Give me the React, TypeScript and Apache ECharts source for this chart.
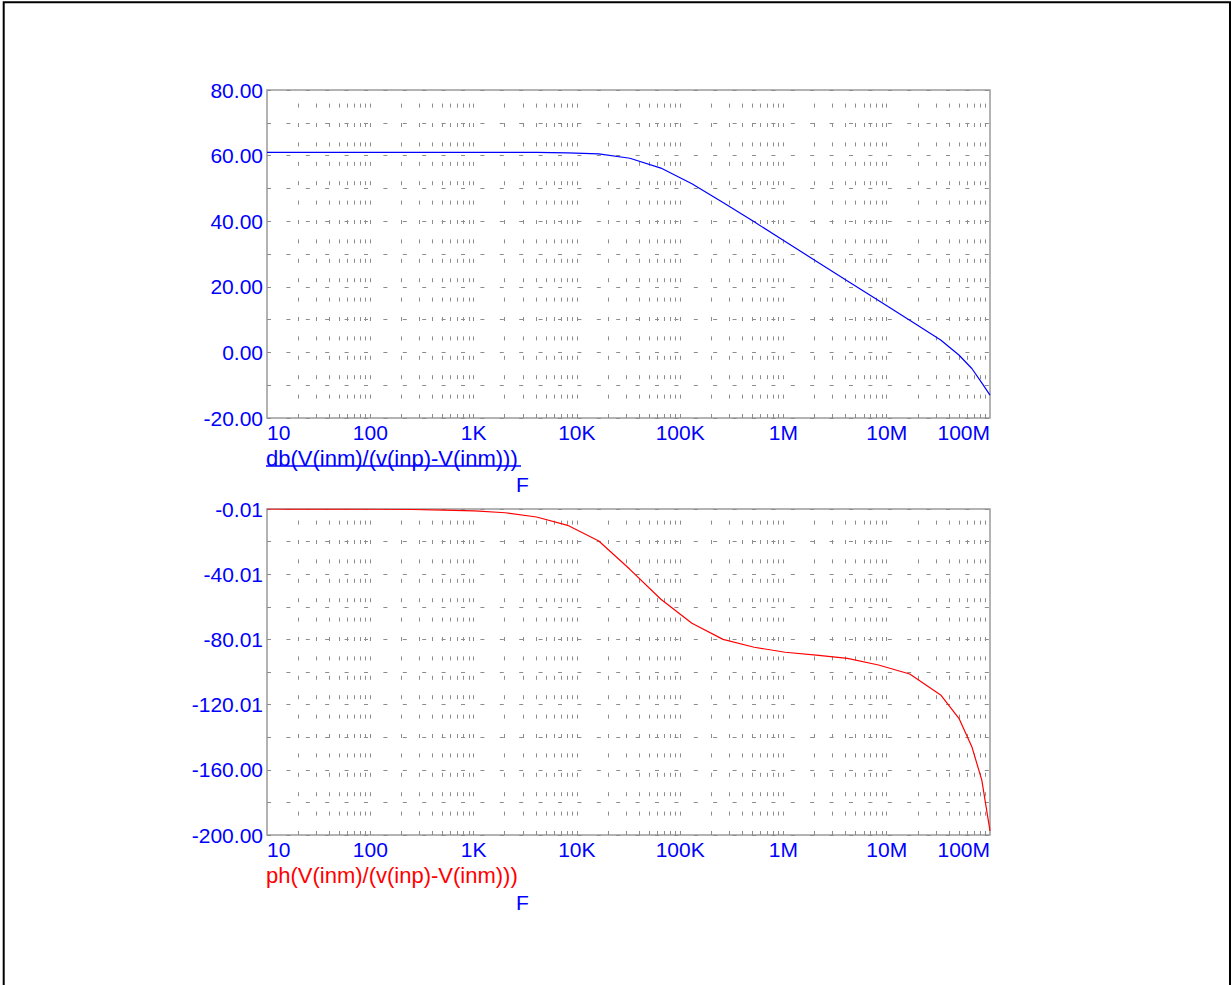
import React, { useEffect, useRef } from "react";
import * as echarts from "echarts";

// Frequency sweep points (Hz)
const freqs = [
  10, 15.9, 31.8, 63.6, 127, 254, 509, 1020, 2030, 4070, 8140, 16300, 32600,
  65100, 130000, 260000, 521000, 1040000, 2080000, 4170000, 8330000, 16700000,
  33300000, 50000000, 66700000, 83300000, 100000000,
];
// db(V(inm)/(v(inp)-V(inm)))
const dbValues = [
  61.0, 61.0, 61.0, 61.0, 61.0, 61.0, 61.0, 61.0, 60.99, 60.96, 60.86, 60.5,
  59.2, 56.2, 51.4, 45.7, 39.8, 33.8, 27.8, 21.8, 15.8, 9.8, 3.8, -0.8, -4.9,
  -9.3, -13.0,
];
// ph(V(inm)/(v(inp)-V(inm)))
const phaseValues = [
  -0.01, -0.02, -0.04, -0.08, -0.16, -0.32, -0.65, -1.2, -2.3, -4.9, -10.0,
  -19.6, -37.0, -55.4, -70.1, -80.0, -84.8, -87.9, -89.6, -91.6, -95.7, -101.2,
  -114.1, -128.4, -145.8, -166.3, -197.5,
];

const xTickLabels = ["10", "100", "1K", "10K", "100K", "1M", "10M", "100M"];
const phaseTickLabels = ["-200.00", "-160.00", "-120.01", "-80.01", "-40.01", "-0.01"];
const decades = [10, 100, 1000, 10000, 100000, 1000000, 10000000];
const multipliers = [2, 3, 4, 5, 6, 7, 8, 9, 10];

const dbTitle = "db(V(inm)/(v(inp)-V(inm)))";
const phTitle = "ph(V(inm)/(v(inp)-V(inm)))";

const FONT = "'Liberation Sans', Arial, sans-serif";
const BLUE = "#0000ff";
const RED = "#ff0000";
const GRID = "#8c8c8c";

export default function App() {
  const ref = useRef<HTMLDivElement>(null);

  useEffect(() => {
    if (!ref.current) return;
    const chart = echarts.init(ref.current, null, { renderer: "svg" });

    const gridXs: number[] = [];
    decades.forEach((d) =>
      multipliers.forEach((m) => {
        const v = d * m;
        if (v < 1e8) gridXs.push(v);
      })
    );

    const dash = { color: GRID, width: 1, type: [4, 15.4] as any };

    const xAxisBase = (gi: number) => ({
      type: "log",
      logBase: 10,
      min: 10,
      max: 1e8,
      splitNumber: 7,
      gridIndex: gi,
      axisLine: { show: false },
      axisTick: { show: false },
      splitLine: { show: false },
      axisLabel: {
        color: BLUE,
        fontSize: 21,
        fontFamily: FONT,
        margin: 4,
        showMinLabel: true,
        showMaxLabel: true,
        alignMinLabel: "left",
        alignMaxLabel: "right",
        formatter: (v: number) => xTickLabels[Math.round(Math.log10(v)) - 1] ?? "",
      },
    });

    const markLine = {
      silent: true,
      symbol: "none",
      label: { show: false },
      lineStyle: dash,
      emphasis: { disabled: true },
      data: gridXs.map((v) => ({ xAxis: v })),
    };

    const option: any = {
      animation: false,
      backgroundColor: "#ffffff",
      grid: [
        { left: 267, top: 90, width: 723, height: 328, show: true, borderColor: "#9a9a9a", borderWidth: 1.5, backgroundColor: "transparent" },
        { left: 267, top: 509, width: 723, height: 326, show: true, borderColor: "#9a9a9a", borderWidth: 1.5, backgroundColor: "transparent" },
      ],
      xAxis: [xAxisBase(0), xAxisBase(1)],
      yAxis: [
        {
          type: "value",
          gridIndex: 0,
          min: -20,
          max: 80,
          interval: 20,
          axisLine: { show: false },
          axisTick: { show: false },
          minorTick: { show: false, splitNumber: 2 },
          splitLine: { show: true, lineStyle: dash },
          minorSplitLine: { show: true, lineStyle: dash },
          axisLabel: {
            color: BLUE,
            fontSize: 21,
            fontFamily: FONT,
            margin: 4,
            showMinLabel: true,
            showMaxLabel: true,
            formatter: (v: number) => v.toFixed(2),
          },
        },
        {
          type: "value",
          gridIndex: 1,
          min: -200,
          max: 0,
          interval: 40,
          axisLine: { show: false },
          axisTick: { show: false },
          minorTick: { show: false, splitNumber: 2 },
          splitLine: { show: true, lineStyle: dash },
          minorSplitLine: { show: true, lineStyle: dash },
          axisLabel: {
            color: BLUE,
            fontSize: 21,
            fontFamily: FONT,
            margin: 4,
            showMinLabel: true,
            showMaxLabel: true,
            formatter: (v: number) => phaseTickLabels[Math.round((v + 200) / 40)] ?? "",
          },
        },
      ],
      series: [
        {
          type: "line",
          xAxisIndex: 0,
          yAxisIndex: 0,
          showSymbol: false,
          silent: true,
          lineStyle: { color: BLUE, width: 1.2 },
          data: freqs.map((f, i) => [f, dbValues[i]]),
          markLine,
          z: 5,
        },
        {
          type: "line",
          xAxisIndex: 1,
          yAxisIndex: 1,
          showSymbol: false,
          silent: true,
          lineStyle: { color: RED, width: 1.2 },
          data: freqs.map((f, i) => [f, phaseValues[i]]),
          markLine,
          z: 5,
        },
      ],
      graphic: [
        {
          type: "rect",
          shape: { x: 3.7, y: 2.2, width: 1226.3, height: 1100 },
          style: { fill: "none", stroke: "#000000", lineWidth: 2 },
          silent: true,
        },
        {
          type: "text",
          x: 266,
          y: 458,
          style: { text: dbTitle, fill: BLUE, fontSize: 22, fontFamily: FONT, verticalAlign: "middle", align: "left" },
        },
        {
          type: "line",
          shape: { x1: 266, y1: 466, x2: 521, y2: 466 },
          style: { stroke: BLUE, lineWidth: 1.5 },
        },
        {
          type: "text",
          x: 516,
          y: 484,
          style: { text: "F", fill: BLUE, fontSize: 21, fontFamily: FONT, verticalAlign: "middle", align: "left" },
        },
        {
          type: "text",
          x: 266,
          y: 875,
          style: { text: phTitle, fill: RED, fontSize: 22, fontFamily: FONT, verticalAlign: "middle", align: "left" },
        },
        {
          type: "text",
          x: 516,
          y: 902,
          style: { text: "F", fill: BLUE, fontSize: 21, fontFamily: FONT, verticalAlign: "middle", align: "left" },
        },
      ],
    };

    chart.setOption(option);
    return () => chart.dispose();
  }, []);

  return (
    <div
      ref={ref}
      style={{ position: "fixed", left: 0, top: 0, width: 1231, height: 985, background: "#fff" }}
    />
  );
}
